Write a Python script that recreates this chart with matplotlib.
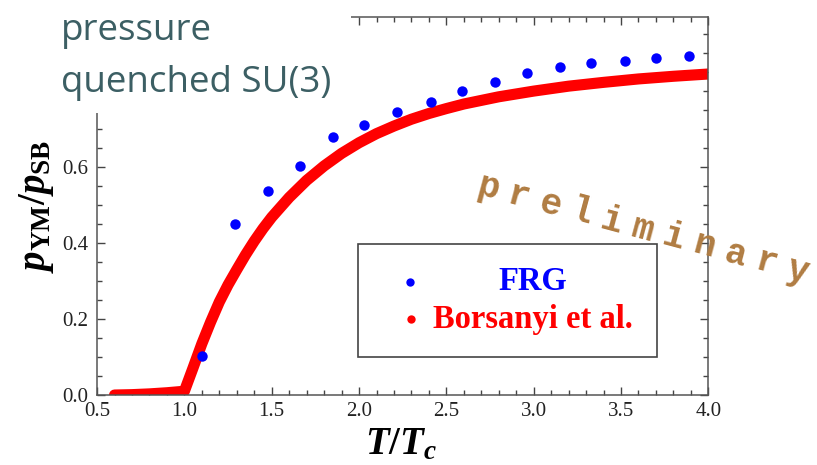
import matplotlib.pyplot as plt
from matplotlib.patches import Rectangle

plt.rcParams["font.family"] = ["Liberation Serif", "DejaVu Serif"]
plt.rcParams["mathtext.fontset"] = "custom"
plt.rcParams["mathtext.it"] = "Liberation Serif:italic:bold"
plt.rcParams["mathtext.rm"] = "Liberation Serif:bold"
plt.rcParams["mathtext.bf"] = "Liberation Serif:bold"

# FRG results (blue dots)
frg_T = [1.10, 1.29, 1.48, 1.66, 1.85, 2.03, 2.22, 2.41, 2.59, 2.78, 2.96, 3.15, 3.33, 3.52, 3.70, 3.89]
frg_p = [0.103, 0.450, 0.538, 0.603, 0.678, 0.711, 0.744, 0.771, 0.799, 0.824, 0.847, 0.863, 0.873, 0.879, 0.886, 0.893]

# lattice curve, Borsanyi et al. (red line)
lat_T = [0.60, 0.70, 0.80, 0.90, 1.00, 1.05, 1.10, 1.15, 1.20, 1.25, 1.30, 1.35, 1.40, 1.45, 1.50,
         1.60, 1.70, 1.80, 1.90, 2.00, 2.10, 2.20, 2.30, 2.40, 2.50, 2.60, 2.80, 3.00, 3.20, 3.40,
         3.60, 3.80, 4.00]
lat_p = [0.000, 0.001, 0.003, 0.006, 0.010, 0.072, 0.135, 0.192, 0.245, 0.290, 0.330, 0.369, 0.405, 0.438, 0.468,
         0.520, 0.565, 0.603, 0.636, 0.664, 0.688, 0.708, 0.726, 0.741, 0.754, 0.766, 0.785, 0.800, 0.813, 0.823,
         0.832, 0.839, 0.845]

fig = plt.figure(figsize=(8.17, 4.65), dpi=100)
ax = fig.add_axes([0.1188, 0.1505, 0.7482, 0.8129])

ax.plot(lat_T, lat_p, color="red", lw=8, solid_capstyle="round", solid_joinstyle="round", zorder=2)
ax.plot(frg_T, frg_p, "o", color="blue", ms=7.5, mec="none", zorder=3)

ax.set_xlim(0.5, 4.0)
ax.set_ylim(0.0, 0.995)
ax.set_xticks([0.5, 1.0, 1.5, 2.0, 2.5, 3.0, 3.5, 4.0])
ax.set_yticks([0.0, 0.2, 0.4, 0.6])
ax.set_xticks([0.5 + 0.1 * i for i in range(36)], minor=True)
ax.set_yticks([0.05 * i for i in range(20)], minor=True)
ax.tick_params(which="both", direction="in", top=True, right=True, color="#444", width=1,
               labelsize=15, labelcolor="#222")
ax.tick_params(which="major", length=6)
ax.tick_params(which="minor", length=3.5)
ax.tick_params(axis="x", pad=5)
ax.tick_params(axis="y", pad=6)
for s in ax.spines.values():
    s.set_color("#555")
    s.set_linewidth(1.1)

ax.set_xlabel(r"$T/T_c$", fontsize=28)
ax.xaxis.set_label_coords(0.497, -0.084)
ax.set_ylabel(r"$p_{\mathrm{YM}}/p_{\mathrm{SB}}$", fontsize=28)
ax.yaxis.set_label_coords(-0.067, 0.5)

# legend box
ax.add_patch(Rectangle((0.427, 0.1005), 0.489, 0.299, transform=ax.transAxes,
                       facecolor="white", edgecolor="#444", lw=1.2, zorder=4))
ax.plot([0.512], [0.300], "o", color="blue", ms=6, mec="none", transform=ax.transAxes, zorder=5)
ax.plot([0.513], [0.200], "o", color="red", ms=6, mec="none", transform=ax.transAxes, zorder=5)
ax.text(0.713, 0.300, "FRG", color="blue", fontsize=23.5, fontweight="bold",
        ha="center", va="center", transform=ax.transAxes, zorder=5)
ax.text(0.550, 0.200, "Borsanyi et al.", color="red", fontsize=23.5, fontweight="bold",
        ha="left", va="center", transform=ax.transAxes, zorder=5)

# white patch hiding the top-left corner of the frame, with the title on it
fig.add_artist(Rectangle((0, 0.757), 0.4296, 0.243, transform=fig.transFigure,
                         facecolor="white", edgecolor="none", zorder=5))
fig.text(61 / 817, 1 - 40 / 465, "pressure", family="Open Sans", fontsize=26.5,
         color="#3c5f64", ha="left", va="baseline", zorder=6)
fig.text(61 / 817, 1 - 92 / 465, "quenched SU(3)", family="Open Sans", fontsize=26.5,
         color="#3c5f64", ha="left", va="baseline", zorder=6)

# "preliminary" watermark, letter by letter along a slanted line
word = "preliminary"
x0, y0, x1, y1 = 488, 188, 797, 271
for i, ch in enumerate(word):
    f = i / (len(word) - 1)
    fig.text((x0 + f * (x1 - x0)) / 817, 1 - (y0 + f * (y1 - y0)) / 465, ch,
             family="Liberation Mono", fontweight="bold", fontsize=26, color="#b07c42",
             rotation=-15, ha="center", va="center", zorder=7)

fig.savefig("out.png", dpi=100)
